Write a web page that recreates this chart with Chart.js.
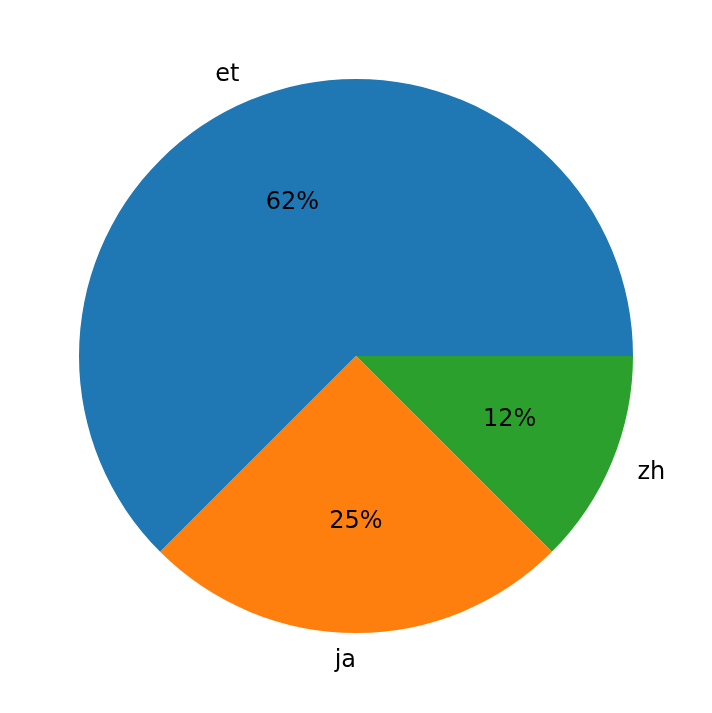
<!DOCTYPE html>
<html><head><meta charset="utf-8">
<script src="https://cdn.jsdelivr.net/npm/chart.js@4"></script>
<style>html,body{margin:0;padding:0;background:#fff}#w{width:712px;height:713px}</style>
</head><body><div id="w"><canvas id="c"></canvas></div>
<script>
const categories = ["zh", "ja", "et"];
const values = [1, 2, 5];
const pctLabels = ["12%", "25%", "62%"];
const colors = ["#2ca02c", "#ff7f0e", "#1f77b4"];

const labelPlugin = {
  id: 'lbl',
  afterDatasetsDraw(chart) {
    const ctx = chart.ctx;
    const meta = chart.getDatasetMeta(0);
    ctx.save();
    ctx.font = '24px "DejaVu Sans"';
    ctx.fillStyle = '#000';
    ctx.textBaseline = 'middle';
    meta.data.forEach((arc, i) => {
      const p = arc.getProps(['x','y','startAngle','endAngle','outerRadius'], true);
      const a = (p.startAngle + p.endAngle) / 2;
      const r = p.outerRadius;
      const cx = Math.cos(a), cy = Math.sin(a);
      ctx.textAlign = 'center';
      ctx.fillText(pctLabels[i], p.x + cx * r * 0.6, p.y + cy * r * 0.6);
      ctx.textAlign = cx > 1e-6 ? 'left' : 'right';
      ctx.fillText(categories[i], p.x + cx * r * 1.1, p.y + cy * r * 1.1);
    });
    ctx.restore();
  }
};

new Chart(document.getElementById('c'), {
  type: 'pie',
  data: { labels: categories, datasets: [{ data: values, backgroundColor: colors, borderWidth: 0 }] },
  options: {
    responsive: true, maintainAspectRatio: false, animation: false,
    rotation: 90,
    layout: { padding: { top: 79, bottom: 80, left: 79, right: 79 } },
    plugins: { legend: { display: false }, tooltip: { enabled: false } }
  },
  plugins: [labelPlugin]
});
</script></body></html>
